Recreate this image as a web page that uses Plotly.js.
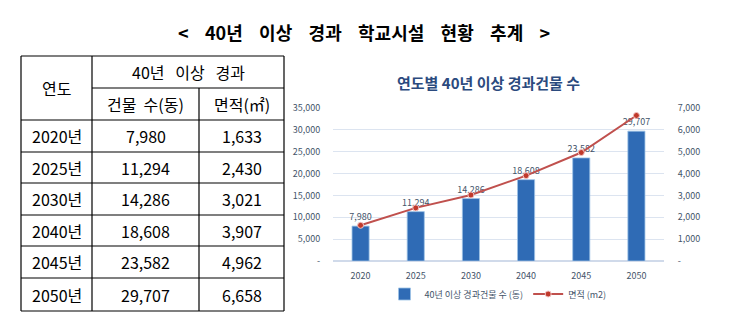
<!DOCTYPE html>
<html>
<head>
<meta charset="utf-8">
<script src="https://cdn.plot.ly/plotly-3.0.1.min.js"></script>
<style>html,body{margin:0;padding:0;background:#fff;}#chart{width:744px;height:336px;}</style>
</head>
<body>
<div id="chart"></div>
<script>
// ---- data ----
const years = ['2020', '2025', '2030', '2040', '2045', '2050'];
const buildings = [7980, 11294, 14286, 18608, 23582, 29707];
const areas = [1633, 2430, 3021, 3907, 4962, 6658];
const leftTicks = [0, 5000, 10000, 15000, 20000, 25000, 30000, 35000];
const rightTicks = [0, 1000, 2000, 3000, 4000, 5000, 6000, 7000];
const mainTitleWords = ['&lt;', '40년', '이상', '경과', '학교시설', '현황', '추계', '&gt;'];
const chartTitle = '연도별 40년 이상 경과건물 수';
const headYear = '연도';
const headGroupWords = ['40년', '이상', '경과'];
const headBuildWords = ['건물', '수(동)'];
const headArea = '면적(㎡)';
const seriesBarName = '40년 이상 경과건물 수 (동)';
const seriesLineName = '면적 (m2)';

// ---- layout helpers ----
const W = 744, H = 336;
const px = x => x / W;
const py = y => 1 - y / H;
const FONT = '"Noto Sans CJK KR", "Noto Sans", sans-serif';
const fmt = v => v.toLocaleString('en-US');
const fmtTick = v => v === 0 ? '-' : fmt(v);
const gap = n => '&nbsp;'.repeat(n);

// table geometry
const colX = [21, 92, 199, 284];
const rowY = [56, 88, 120, 152, 183, 215, 246, 278, 311];
const shapes = [];
const annotations = [];
function line(x0, y0, x1, y1, w) {
  shapes.push({type: 'line', xref: 'paper', yref: 'paper', x0: px(x0), y0: py(y0), x1: px(x1), y1: py(y1),
    line: {color: '#000', width: w || 1.2}});
}
function text(t, x, y, size, opts) {
  annotations.push(Object.assign({text: t, xref: 'paper', yref: 'paper', x: px(x), y: py(y),
    xanchor: 'center', yanchor: 'middle', showarrow: false,
    font: {family: FONT, size: size, color: '#000'}}, opts || {}));
}
// outer border
line(colX[0], rowY[0], colX[3], rowY[0]);
line(colX[0], rowY[8], colX[3], rowY[8]);
line(colX[0], rowY[0], colX[0], rowY[8]);
line(colX[3], rowY[0], colX[3], rowY[8]);
// internal verticals
line(colX[1], rowY[0], colX[1], rowY[8]);
line(colX[2], rowY[1], colX[2], rowY[8]);
// internal horizontals
line(colX[1], rowY[1], colX[3], rowY[1]);
for (let i = 2; i < rowY.length - 1; i++) line(colX[0], rowY[i], colX[3], rowY[i]);

text(headYear, (colX[0] + colX[1]) / 2, (rowY[0] + rowY[2]) / 2, 16);
text(headGroupWords.join(gap(3)), (colX[1] + colX[3]) / 2, (rowY[0] + rowY[1]) / 2, 16);
text(headBuildWords.join(gap(2)), (colX[1] + colX[2]) / 2, (rowY[1] + rowY[2]) / 2, 16);
text(headArea, (colX[2] + colX[3]) / 2, (rowY[1] + rowY[2]) / 2, 16);
years.forEach((yr, i) => {
  const yc = (rowY[i + 2] + rowY[i + 3]) / 2;
  text(yr + '년', (colX[0] + colX[1]) / 2, yc, 16);
  text(fmt(buildings[i]), (colX[1] + colX[2]) / 2, yc, 16);
  text(fmt(areas[i]), (colX[2] + colX[3]) / 2, yc, 16);
});

// titles
text('<b>' + mainTitleWords.join(gap(4)) + '</b>', 364, 32, 18);
text('<b>' + chartTitle + '</b>', 488, 82, 15, {font: {family: FONT, size: 15, color: '#2B4A7E'}});

const tickFont = {family: FONT, size: 9, color: '#44546A'};

const traces = [
  {
    type: 'bar', x: years, y: buildings, name: seriesBarName, width: 0.31,
    marker: {color: '#2F6BB5', line: {color: '#9DC3E6', width: 0.8}},
    text: buildings.map(fmt), textposition: 'outside', cliponaxis: false, constraintext: 'none',
    textfont: {family: FONT, size: 9, color: '#44546A'},
    hoverinfo: 'skip'
  },
  {
    type: 'scatter', mode: 'lines+markers', x: years, y: areas, yaxis: 'y2', name: seriesLineName,
    line: {color: '#C0504D', width: 2},
    marker: {color: '#C0392B', size: 6, line: {color: '#F2C4C4', width: 1}},
    cliponaxis: false, hoverinfo: 'skip'
  }
];

const layout = {
  width: W, height: H,
  margin: {l: 0, r: 0, t: 0, b: 0},
  paper_bgcolor: '#fff', plot_bgcolor: '#fff',
  showlegend: true,
  legend: {orientation: 'h', x: px(498), xanchor: 'center', y: py(294), yanchor: 'middle',
    font: {family: FONT, size: 9, color: '#44546A'}, itemwidth: 30, tracegroupgap: 0},
  xaxis: {domain: [px(333), px(664)], type: 'category', tickfont: tickFont,
    ticks: 'outside', ticklen: 6, tickcolor: 'rgba(0,0,0,0)', showline: false, showgrid: false, fixedrange: true},
  yaxis: {domain: [py(261), py(108)], range: [0, 35000], tickvals: leftTicks, ticktext: leftTicks.map(fmtTick),
    tickfont: tickFont, ticks: 'outside', ticklen: 10, tickcolor: 'rgba(0,0,0,0)',
    showgrid: true, gridcolor: '#DCE4F0', gridwidth: 1, zeroline: true, zerolinecolor: '#D0DAEA', zerolinewidth: 1.2, fixedrange: true},
  yaxis2: {overlaying: 'y', side: 'right', range: [0, 7000], tickvals: rightTicks, ticktext: rightTicks.map(fmtTick),
    tickfont: tickFont, ticks: 'outside', ticklen: 11, tickcolor: 'rgba(0,0,0,0)', showgrid: false, zeroline: false, fixedrange: true},
  shapes: shapes,
  annotations: annotations
};

Plotly.newPlot('chart', traces, layout, {staticPlot: true, displayModeBar: false});
</script>
</body>
</html>
